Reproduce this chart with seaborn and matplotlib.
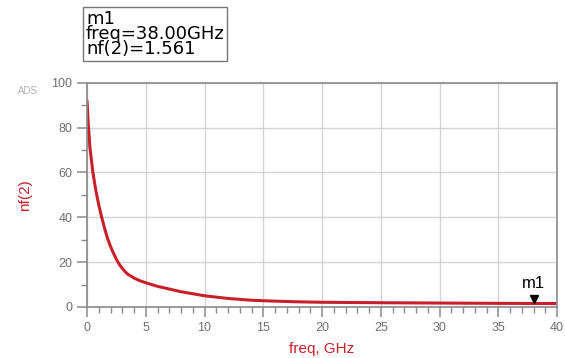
import pandas as pd
import matplotlib.pyplot as plt
import seaborn as sns
from matplotlib.ticker import MultipleLocator

# Noise figure nf(2) vs frequency
freq = [0.0, 0.1, 0.25, 0.5, 0.75, 1.0, 1.25, 1.5, 1.75, 2.0, 2.25, 2.5, 2.75, 3.0, 3.25, 3.5,
        4.0, 4.5, 5.0, 6.0, 7.0, 8.0, 9.0, 10.0, 12.0, 14.0, 16.0, 18.0, 20.0, 25.0, 30.0,
        35.0, 38.0, 40.0]
nf = [92.0, 82.0, 71.0, 60.0, 52.0, 45.5, 40.0, 35.0, 30.5, 27.0, 24.0, 21.3, 19.0, 17.2, 15.7, 14.5,
      12.9, 11.7, 10.8, 9.2, 8.0, 6.8, 5.9, 5.0, 3.8, 3.0, 2.6, 2.3, 2.1, 1.9, 1.75,
      1.62, 1.561, 1.55]

marker_freq = 38.0
marker_nf = 1.561
x_ticks = [0, 5, 10, 15, 20, 25, 30, 35, 40]
y_ticks = [0, 20, 40, 60, 80, 100]

df = pd.DataFrame({"freq": freq, "nf": nf})

sns.set_style("white")
plt.rcParams["font.family"] = ["Liberation Sans", "DejaVu Sans"]

fig = plt.figure(figsize=(5.65, 3.58), dpi=100)
ax = fig.add_axes([0.154, 0.1425, 0.832, 0.6265])

red = "#c8202a"
sns.lineplot(data=df, x="freq", y="nf", ax=ax, color=red, linewidth=2.2)

# marker m1
ax.plot([marker_freq], [marker_nf + 2.2], marker="v", color="black", markersize=6, linestyle="none")
ax.text(marker_freq, marker_nf + 5.5, "m1", ha="center", va="bottom", fontsize=12, color="black")

ax.set_xlim(0, 40)
ax.set_ylim(0, 100)
ax.set_xticks(x_ticks)
ax.set_yticks(y_ticks)
ax.xaxis.set_minor_locator(MultipleLocator(1))
ax.yaxis.set_minor_locator(MultipleLocator(10))
ax.grid(True, which="major", color="#d4d4d4", linewidth=1.0)
ax.set_axisbelow(True)

for s in ax.spines.values():
    s.set_color("#8a8a8a")
    s.set_linewidth(1.2)

ax.tick_params(axis="both", which="major", direction="out", length=7, width=1.1,
               color="#8a8a8a", labelcolor="#707070", labelsize=9)
ax.tick_params(axis="both", which="minor", direction="out", length=4, width=1.0, color="#8a8a8a")
ax.tick_params(axis="both", which="both", bottom=True, left=True)

ax.set_xlabel("freq, GHz", color=red, fontsize=11, labelpad=6)
ax.set_ylabel("nf(2)", color=red, fontsize=11, labelpad=14)

fig.text(18 / 565, 1 - 91 / 358, "ADS", fontsize=7, color="#b0b0b0", ha="left", va="center")

# marker readout box
fig.text(86 / 565, 1 - 34 / 358, "m1\nfreq=38.00GHz\nnf(2)=1.561", fontsize=13, color="black",
         family=["DejaVu Sans"], ha="left", va="center", linespacing=0.82,
         bbox=dict(boxstyle="square,pad=0.15", facecolor="white", edgecolor="#777777", linewidth=1.0))

plt.savefig("out.png", dpi=100)
plt.close()
